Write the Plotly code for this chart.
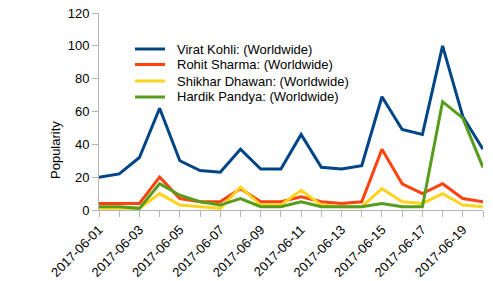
import plotly.graph_objects as go

dates = ["2017-06-%02d" % d for d in range(1, 21)]
virat = [20, 22, 32, 62, 30, 24, 23, 37, 25, 25, 46, 26, 25, 27, 69, 49, 46, 100, 57, 37]
rohit = [4, 4, 4, 20, 7, 5, 5, 13, 5, 5, 8, 5, 4, 5, 37, 16, 10, 16, 7, 5]
shikhar = [1, 1, 1, 10, 3, 2, 1, 14, 3, 3, 12, 3, 2, 2, 13, 5, 4, 10, 3, 2]
hardik = [2, 2, 1, 16, 9, 5, 3, 7, 2, 2, 5, 2, 2, 2, 4, 2, 2, 66, 56, 26]

names = ["Virat Kohli: (Worldwide)", "Rohit Sharma: (Worldwide)",
         "Shikhar Dhawan: (Worldwide)", "Hardik Pandya: (Worldwide)"]
values = [virat, rohit, shikhar, hardik]
colors = ["#004586", "#ff420e", "#ffd320", "#579d1c"]

W, H = 493, 281
L, R, T, B = 99, 10, 13, 71
pw, ph = W - L - R, H - T - B

fig = go.Figure()
for name, vals, col in zip(names, values, colors):
    fig.add_trace(go.Scatter(x=dates, y=vals, name=name, mode="lines",
                             line=dict(color=col, width=3), showlegend=False))

# custom legend (compact like the reference)
leg_rows = [49, 64.5, 81, 97]
for name, col, yp in zip(names, colors, leg_rows):
    yy = (H - B - yp) / ph
    fig.add_shape(type="line", xref="paper", yref="paper",
                  x0=(135 - L) / pw, x1=(165 - L) / pw, y0=yy, y1=yy,
                  line=dict(color=col, width=3))
    fig.add_annotation(xref="paper", yref="paper", x=(175 - L) / pw, y=yy,
                       xanchor="left", yanchor="middle", text=name,
                       showarrow=False, font=dict(size=13, color="black"))

fig.add_annotation(xref="paper", yref="paper", x=(55 - L) / pw, y=(H - B - 150) / ph,
                   text="Popularity", textangle=-90, showarrow=False,
                   xanchor="center", yanchor="middle", font=dict(size=13, color="black"))

fig.update_layout(
    width=W, height=H,
    margin=dict(l=L, r=R, t=T, b=B),
    paper_bgcolor="white", plot_bgcolor="white",
    font=dict(family="Liberation Sans", size=13, color="black"),
    showlegend=False,
    xaxis=dict(type="date", range=[dates[0], dates[-1]],
               tickmode="array", tickvals=dates[::2], ticktext=dates[::2],
               tickangle=-45, showgrid=False, showline=True,
               linecolor="#b3b3b3", ticks="outside", ticklen=6,
               tickcolor="#b3b3b3", automargin=False,
               minor=dict(tickvals=dates, ticks="outside", ticklen=6,
                          tickcolor="#b3b3b3", showgrid=False)),
    yaxis=dict(range=[0, 120], dtick=20, showgrid=False, showline=True,
               linecolor="#b3b3b3", ticks="outside", ticklen=6,
               tickcolor="#b3b3b3", zeroline=False, automargin=False),
)

fig.write_html("out.html", config={"displayModeBar": False})
with open("out.html", encoding="utf-8") as f:
    html = f.read()
html = html.replace("<body>", '<body style="margin:0;padding:0;overflow:hidden">', 1)
with open("out.html", "w", encoding="utf-8") as f:
    f.write(html)
